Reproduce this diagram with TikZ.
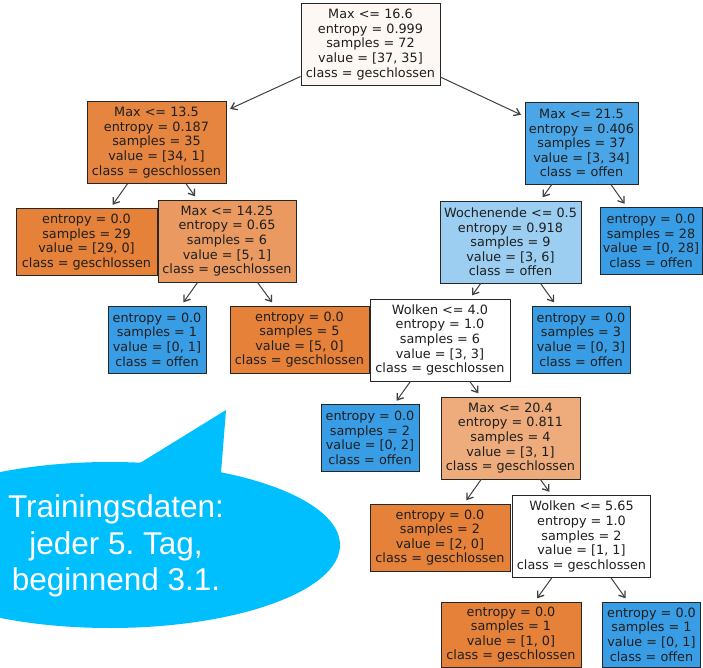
\documentclass[tikz,border=0pt]{standalone}
\usepackage{fontspec}
\newfontfamily\dvfont{DejaVu Sans}
\newfontfamily\arialfont{Liberation Sans}
\usetikzlibrary{arrows.meta}
\definecolor{orfull}{RGB}{229,129,57}
\definecolor{blfull}{RGB}{57,157,229}
\definecolor{cRoot}{RGB}{253,248,244}
\definecolor{cA}{RGB}{230,133,63}
\definecolor{cB}{RGB}{74,166,231}
\definecolor{cC}{RGB}{234,154,97}
\definecolor{cD}{RGB}{156,206,242}
\definecolor{cE}{RGB}{238,171,123}
\definecolor{bubble}{RGB}{0,191,255}
\tikzset{
  tn/.style={draw=black!85, line width=0.9pt, align=center, inner sep=1pt,
    font=\dvfont\fontsize{12.8}{14.6}\selectfont, text=black!88},
  split/.style={tn, minimum height=82pt},
  leaf/.style={tn, minimum height=67pt},
  arr/.style={draw=black!75, line width=1pt, {Straight Barb[length=5.5pt,width=8pt,line width=1.3pt]}-, shorten <=4pt}
}
\begin{document}
\frenchspacing
\begin{tikzpicture}[x=1pt,y=-1pt]
\useasboundingbox (0,0) rectangle (703,668);
\clip (0,0) rectangle (703,668);
% speech bubble
\fill[bubble] (110,545) ellipse [x radius=230pt, y radius=83pt];
\fill[bubble] (140,463) -- (226,410) -- (221,473) -- cycle;
\node[font=\arialfont\fontsize{31.5}{36.5}\selectfont, text=white, align=center] (bub) at (116,546)
  {Trainingsdaten:\\jeder 5. Tag,\\beginnend 3.1.};
% tree nodes
\node[split, fill=cRoot, minimum width=139pt] (root) at (370.5,44.5)
  {Max <= 16.6\\entropy = 0.999\\samples = 72\\value = [37, 35]\\class = geschlossen};
\node[split, fill=cA, minimum width=139pt] (n1) at (156.5,142.5)
  {Max <= 13.5\\entropy = 0.187\\samples = 35\\value = [34, 1]\\class = geschlossen};
\node[split, fill=cB, minimum width=113pt] (n2) at (581.5,143)
  {Max <= 21.5\\entropy = 0.406\\samples = 37\\value = [3, 34]\\class = offen};
\node[leaf, fill=orfull, minimum width=141pt] (l29) at (86.5,242)
  {entropy = 0.0\\samples = 29\\value = [29, 0]\\class = geschlossen};
\node[split, fill=cC, minimum width=138pt] (n3) at (227,241)
  {Max <= 14.25\\entropy = 0.65\\samples = 6\\value = [5, 1]\\class = geschlossen};
\node[split, fill=cD, minimum width=141pt] (n4) at (510.5,242)
  {Wochenende <= 0.5\\entropy = 0.918\\samples = 9\\value = [3, 6]\\class = offen};
\node[leaf, fill=blfull, minimum width=102pt] (l28) at (651,241)
  {entropy = 0.0\\samples = 28\\value = [0, 28]\\class = offen};
\node[leaf, fill=blfull, minimum width=98pt] (l1a) at (157,339.5)
  {entropy = 0.0\\samples = 1\\value = [0, 1]\\class = offen};
\node[leaf, fill=orfull, minimum width=139pt] (l5) at (299.5,339.5)
  {entropy = 0.0\\samples = 5\\value = [5, 0]\\class = geschlossen};
\node[split, fill=white, minimum width=140pt] (n5) at (440,340)
  {Wolken <= 4.0\\entropy = 1.0\\samples = 6\\value = [3, 3]\\class = geschlossen};
\node[leaf, fill=blfull, minimum width=98pt] (l3) at (581,339.5)
  {entropy = 0.0\\samples = 3\\value = [0, 3]\\class = offen};
\node[leaf, fill=blfull, minimum width=98pt] (l2) at (370,438)
  {entropy = 0.0\\samples = 2\\value = [0, 2]\\class = offen};
\node[split, fill=cE, minimum width=139pt] (n6) at (510.5,438)
  {Max <= 20.4\\entropy = 0.811\\samples = 4\\value = [3, 1]\\class = geschlossen};
\node[leaf, fill=orfull, minimum width=140pt] (l20) at (440,537.5)
  {entropy = 0.0\\samples = 2\\value = [2, 0]\\class = geschlossen};
\node[split, fill=white, minimum width=138pt] (n7) at (581.5,536.5)
  {Wolken <= 5.65\\entropy = 1.0\\samples = 2\\value = [1, 1]\\class = geschlossen};
\node[leaf, fill=orfull, minimum width=140pt, minimum height=65pt] (l10) at (511,634.5)
  {entropy = 0.0\\samples = 1\\value = [1, 0]\\class = geschlossen};
\node[leaf, fill=blfull, minimum width=98pt, minimum height=65pt] (l01) at (651.5,634.5)
  {entropy = 0.0\\samples = 1\\value = [0, 1]\\class = offen};
% connectors
\draw[arr] (n1) -- (root);
\draw[arr] (n2) -- (root);
\draw[arr] (l29) -- (n1);
\draw[arr] (n3) -- (n1);
\draw[arr] (n4) -- (n2);
\draw[arr] (l28) -- (n2);
\draw[arr] (l1a) -- (n3);
\draw[arr] (l5) -- (n3);
\draw[arr] (n5) -- (n4);
\draw[arr] (l3) -- (n4);
\draw[arr] (l2) -- (n5);
\draw[arr] (n6) -- (n5);
\draw[arr] (l20) -- (n6);
\draw[arr] (n7) -- (n6);
\draw[arr] (l10) -- (n7);
\draw[arr] (l01) -- (n7);
\end{tikzpicture}
\end{document}
